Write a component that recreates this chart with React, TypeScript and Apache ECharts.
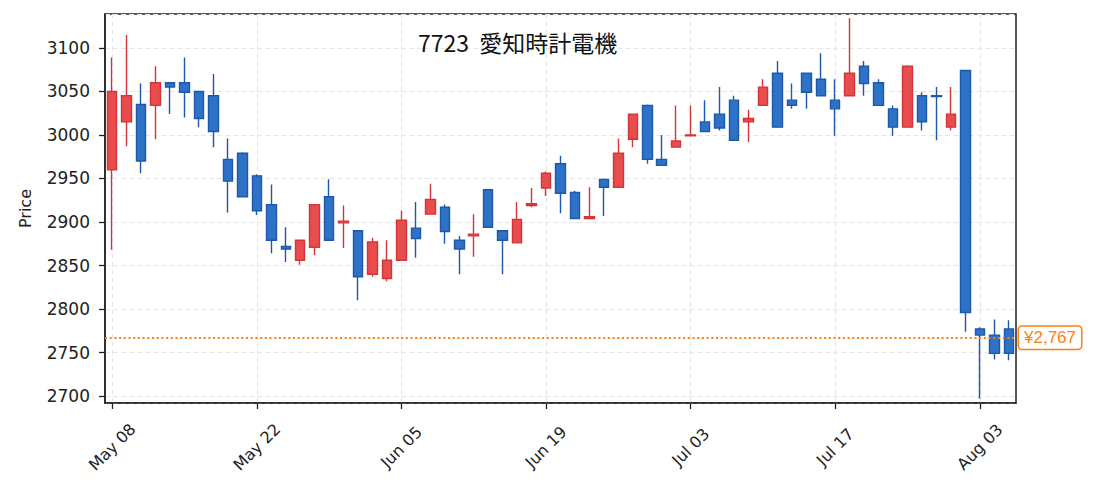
import React, { useEffect, useRef } from "react";
import * as echarts from "echarts";

const dates = [
  "May 08", "May 11", "May 12", "May 13", "May 14", "May 15",
  "May 18", "May 19", "May 20", "May 21", "May 22",
  "May 25", "May 26", "May 27", "May 28", "May 29",
  "Jun 01", "Jun 02", "Jun 03", "Jun 04", "Jun 05",
  "Jun 08", "Jun 09", "Jun 10", "Jun 11", "Jun 12",
  "Jun 15", "Jun 16", "Jun 17", "Jun 18", "Jun 19",
  "Jun 22", "Jun 23", "Jun 24", "Jun 25", "Jun 26",
  "Jun 29", "Jun 30", "Jul 01", "Jul 02", "Jul 03",
  "Jul 06", "Jul 07", "Jul 08", "Jul 09", "Jul 10",
  "Jul 13", "Jul 14", "Jul 15", "Jul 16", "Jul 17",
  "Jul 20", "Jul 21", "Jul 22", "Jul 23", "Jul 27", "Jul 28", "Jul 29", "Jul 30", "Jul 31",
  "Aug 03", "Aug 04", "Aug 05",
];

const opens = [
  2960, 3015, 3035, 3034, 3060, 3060, 3050, 3045, 2972, 2979,
  2953, 2920, 2872, 2856, 2871, 2929, 2899, 2890, 2840, 2835,
  2856, 2893, 2909, 2917, 2879, 2884, 2937, 2890, 2876, 2919,
  2939, 2967, 2934, 2904, 2949, 2940, 2995, 3034, 2972, 2986,
  2999, 3015, 3024, 3040, 3015, 3034, 3071, 3040, 3071, 3064,
  3040, 3045, 3079, 3060, 3030, 3009, 3045, 3045, 3009, 3074,
  2777, 2770, 2777,
];
const closes = [
  3050, 3045, 2970, 3060, 3055, 3049, 3019, 3004, 2947, 2929,
  2913, 2879, 2869, 2879, 2920, 2879, 2901, 2837, 2877, 2856,
  2902, 2881, 2926, 2889, 2869, 2886, 2894, 2879, 2903, 2921,
  2956, 2933, 2904, 2906, 2940, 2979, 3024, 2972, 2965, 2993,
  3000, 3004, 3008, 2994, 3019, 3055, 3009, 3034, 3049, 3045,
  3030, 3071, 3059, 3034, 3009, 3079, 3015, 3044, 3024, 2796,
  2770, 2749, 2749,
];
const lows = [
  2868, 2987, 2956, 2995, 3024, 3020, 3009, 2986, 2911, 2928,
  2908, 2864, 2854, 2851, 2862, 2879, 2870, 2810, 2837, 2832,
  2856, 2859, 2909, 2875, 2840, 2860, 2894, 2840, 2876, 2917,
  2930, 2910, 2904, 2903, 2907, 2940, 2986, 2967, 2965, 2986,
  2999, 3004, 3005, 2994, 2992, 3034, 3009, 3030, 3030, 3045,
  2999, 3045, 3045, 3034, 2999, 3009, 3005, 2994, 3005, 2774,
  2697, 2742, 2741,
];
const highs = [
  3089, 3115, 3059, 3079, 3060, 3089, 3050, 3070, 2996, 2980,
  2955, 2943, 2894, 2879, 2920, 2949, 2919, 2890, 2882, 2879,
  2913, 2923, 2944, 2920, 2884, 2909, 2937, 2890, 2923, 2939,
  2958, 2976, 2936, 2940, 2949, 2996, 3024, 3035, 3000, 3034,
  3034, 3040, 3055, 3045, 3029, 3064, 3085, 3059, 3071, 3094,
  3064, 3134, 3085, 3064, 3034, 3080, 3049, 3055, 3055, 3075,
  2779, 2788, 2787,
];

const lastPrice = 2767;
const titleText = "7723  愛知時計電機";
const yLabel = "Price";

export default function App() {
  const ref = useRef<HTMLDivElement>(null);
  useEffect(() => {
    if (!ref.current) return;
    const chart = echarts.init(ref.current, undefined, { renderer: "svg" });
    const data = opens.map((o, i) => [o, closes[i], lows[i], highs[i]]);
    const axisColor = "#222";
    const gridLine = { show: true, lineStyle: { color: "#e6e6e6", type: [5, 3] as any, width: 1.2 } };
    chart.setOption({
      animation: false,
      backgroundColor: "#fff",
      title: {
        text: titleText,
        left: 413,
        top: 25,
        textStyle: { fontSize: 23, fontWeight: "normal", fontFamily: "Noto Sans CJK JP", color: "#111" },
      },
      grid: {
        left: 105,
        top: 14,
        right: 79,
        bottom: 89,
        show: true,
        borderColor: axisColor,
        borderWidth: 1.5,
        backgroundColor: "transparent",
      },
      xAxis: {
        type: "category",
        data: dates,
        boundaryGap: true,
        axisLine: { show: true, lineStyle: { color: axisColor, width: 1.5 } },
        axisTick: { show: true, alignWithLabel: true, interval: 9, length: 6, lineStyle: { color: axisColor, width: 1.3 } },
        axisLabel: {
          interval: 9,
          rotate: 45,
          align: "center",
          verticalAlign: "middle",
          margin: 44,
          fontSize: 16,
          fontFamily: "DejaVu Sans",
          color: axisColor,
        },
        splitLine: { ...gridLine, interval: 9, alignWithLabel: true },
      },
      yAxis: {
        type: "value",
        min: 2692,
        max: 3139,
        splitNumber: 9,
        name: yLabel,
        nameLocation: "middle",
        nameGap: 72,
        nameTextStyle: { fontSize: 16, fontFamily: "DejaVu Sans", color: axisColor },
        axisLine: { show: true, lineStyle: { color: axisColor, width: 1.5 } },
        axisTick: { show: true, length: 6, lineStyle: { color: axisColor, width: 1.3 } },
        axisLabel: {
          showMinLabel: false,
          showMaxLabel: false,
          margin: 15,
          fontSize: 17,
          fontFamily: "DejaVu Sans",
          color: axisColor,
          formatter: (v: number) => String(v),
        },
        splitLine: gridLine,
      },
      series: [
        {
          type: "candlestick",
          data,
          barWidth: 10,
          itemStyle: {
            color: "#e84c4c",
            color0: "#2d72c6",
            borderColor: "#d33636",
            borderColor0: "#1d58aa",
            borderWidth: 1.4,
          },
          markLine: {
            silent: true,
            symbol: "none",
            data: [{ yAxis: lastPrice }],
            lineStyle: { color: "#ff7f0e", type: [2, 2.7] as any, width: 2 },
            label: {
              show: true,
              position: "end",
              distance: 3,
              formatter: "¥" + lastPrice.toLocaleString("en-US"),
              color: "#ff7f0e",
              backgroundColor: "#fff",
              borderColor: "#ff7f0e",
              borderWidth: 1.5,
              borderRadius: 3,
              padding: [3, 5, 2, 5],
              fontSize: 17,
              fontFamily: "Liberation Sans",
            },
          },
        },
      ],
    });
    return () => chart.dispose();
  }, []);
  return (
    <div
      ref={ref}
      style={{ position: "fixed", left: 0, top: 0, width: 1095, height: 492, background: "#fff" }}
    />
  );
}
